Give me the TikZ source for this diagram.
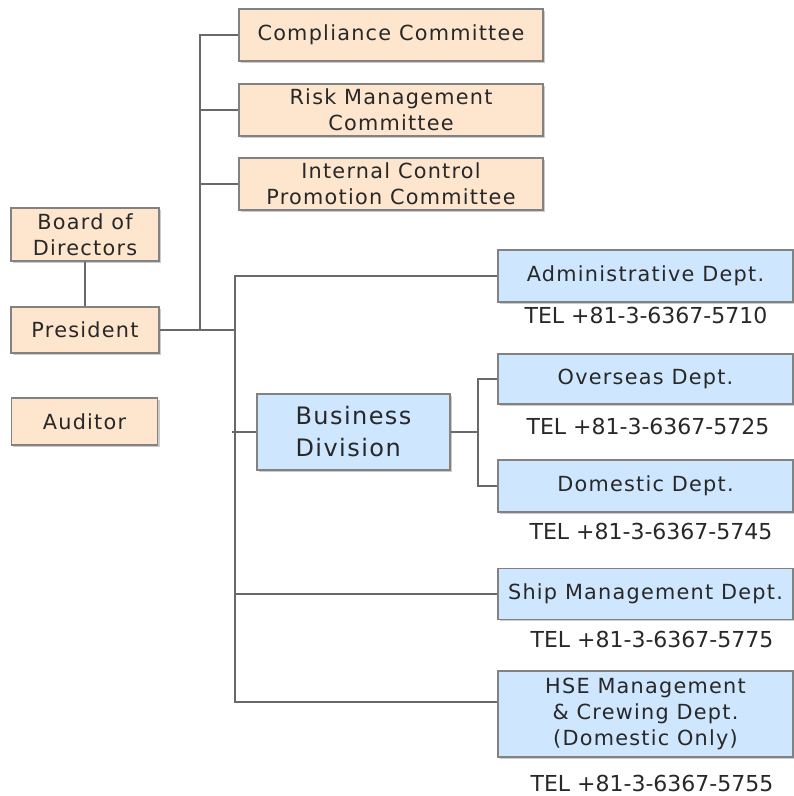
\documentclass[tikz,border=0pt]{standalone}
\usepackage{fontspec}
\setmainfont{DejaVu Sans}
\newfontfamily\boxfont{DejaVu Sans}[LetterSpace=6]
\usetikzlibrary{shadows}

\definecolor{peach}{RGB}{254,230,206}
\definecolor{skyblue}{RGB}{206,230,254}
\definecolor{edgegray}{RGB}{130,130,130}
\definecolor{linegray}{RGB}{105,105,105}
\definecolor{textgray}{RGB}{40,40,40}

\tikzset{
  orgbox/.style={draw=edgegray, line width=0.9pt, text=textgray, align=center, inner sep=0pt,
    font=\boxfont\fontsize{15.6}{19.5}\selectfont,
    drop shadow={shadow xshift=1.4pt, shadow yshift=-1.4pt, fill=black!40}},
  execbox/.style={orgbox, fill=peach},
  deptbox/.style={orgbox, fill=skyblue},
  tel/.style={text=textgray, font=\fontsize{16.5}{18}\selectfont},
  link/.style={draw=linegray, line width=0.9pt},
}

\begin{document}
\begin{tikzpicture}[x=0.75pt,y=0.75pt,yscale=-1,xscale=1]
\useasboundingbox (0,0) rectangle (793,796);

% Left column
\node[execbox, minimum width=111pt, minimum height=39.75pt] (board) at (85,234.5) {Board of\\Directors};
\node[execbox, minimum width=111pt, minimum height=34.5pt] (pres) at (85,330) {President};
\node[execbox, minimum width=110pt, minimum height=35.25pt] (auditor) at (84.5,421.5) {Auditor};

% Committees
\node[execbox, minimum width=228pt, minimum height=39pt] (compl) at (391,35) {Compliance Committee};
\node[execbox, minimum width=228pt, minimum height=39pt] (risk) at (391,110) {Risk Management\\Committee};
\node[execbox, minimum width=228pt, minimum height=39pt] (icp) at (391,184) {Internal Control\\Promotion Committee};

% Departments
\node[deptbox, minimum width=221.25pt, minimum height=39pt] (admin) at (645.5,276) {Administrative Dept.};
\node[deptbox, minimum width=144.75pt, minimum height=57pt, align=left,
  font=\boxfont\fontsize{18}{24}\selectfont] (bizdiv) at (353.5,432) {Business\\Division};
\node[deptbox, minimum width=221.25pt, minimum height=37.5pt] (overseas) at (645.5,379) {Overseas Dept.};
\node[deptbox, minimum width=221.25pt, minimum height=39pt] (domestic) at (645.5,486) {Domestic Dept.};
\node[deptbox, minimum width=221.25pt, minimum height=38.25pt] (ship) at (645.5,594) {Ship Management Dept.};
\node[deptbox, minimum width=221.25pt, minimum height=64.5pt] (hse) at (645.5,714) {HSE Management\\\& Crewing Dept.\\(Domestic Only)};

% Text Node
\node[tel] (adminTel) at (646,315) {TEL +81-3-6367-5710};
\node[tel] (overseasTel) at (648,426) {TEL +81-3-6367-5725};
\node[tel] (domesticTel) at (651,531) {TEL +81-3-6367-5745};
\node[tel] (shipTel) at (652,639) {TEL +81-3-6367-5775};
\node[tel] (hseTel) at (652,783) {TEL +81-3-6367-5755};

% Junctions
\coordinate (j1) at (200,330);
\coordinate (j2) at (235,330);
\coordinate (bstub) at (232,432);
\coordinate (j3) at (478,432);
\coordinate (hseIn) at (235,702);

%Straight Lines
\draw[link] (board.south) -- (pres.north);
\draw[link] (pres.east) -- (j2);
\draw[link] (j1) |- (compl.west);
\draw[link] (j1) |- (risk.west);
\draw[link] (j1) |- (icp.west);
\draw[link] (j2) |- (admin.west);
\draw[link] (j2) |- (ship.west);
\draw[link] (j2) -- (hseIn) -- (hseIn -| hse.west);
\draw[link] (bstub) -- (bizdiv.west);
\draw[link] (bizdiv.east) -- (j3);
\draw[link] (j3) |- (overseas.west);
\draw[link] (j3) |- (domestic.west);

\end{tikzpicture}
\end{document}
